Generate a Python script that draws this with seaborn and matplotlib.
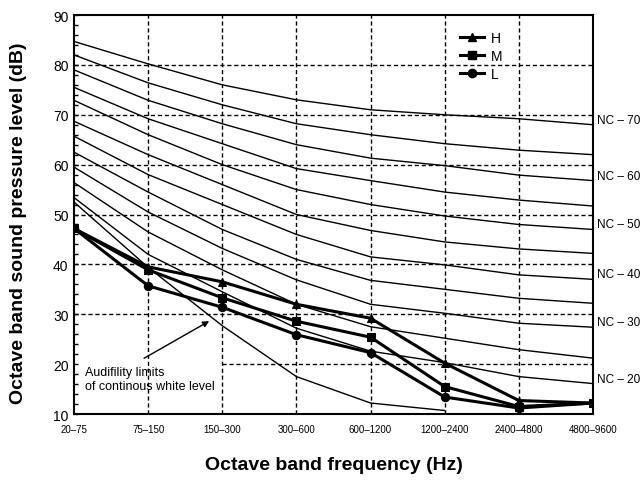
import pandas as pd
import matplotlib.pyplot as plt
import seaborn as sns
from matplotlib.lines import Line2D

# octave bands along the x axis
bands = ["20–75", "75–150", "150–300", "300–600", "600–1200",
         "1200–2400", "2400–4800", "4800–9600"]

# noise criterion curves (dB)
nc_70 = [84.7, 80.2, 76.0, 73.0, 71.0, 70.0, 69.2, 68.0]
nc_65 = [82.0, 76.4, 72.0, 68.2, 66.0, 64.2, 62.9, 62.0]
nc_60 = [79.0, 72.9, 68.2, 64.0, 61.3, 59.8, 57.9, 56.8]
nc_55 = [75.5, 69.2, 64.2, 59.2, 56.8, 54.5, 52.9, 51.7]
nc_50 = [72.9, 66.0, 60.0, 55.0, 52.0, 49.7, 48.0, 47.0]
nc_45 = [68.7, 62.0, 56.0, 50.0, 46.8, 44.5, 43.1, 42.2]
nc_40 = [65.7, 58.0, 52.0, 46.0, 41.5, 39.9, 37.9, 37.0]
nc_35 = [62.5, 54.5, 47.0, 41.0, 36.8, 35.0, 33.2, 32.2]
nc_30 = [59.5, 50.5, 43.2, 36.9, 32.0, 30.2, 28.2, 27.4]
nc_25 = [56.4, 46.5, 38.9, 32.0, 27.5, 25.2, 22.9, 21.2]
nc_20 = [53.4, 42.0, 34.5, 27.2, 22.6, 20.3, 17.5, 16.1]
nc_levels = [70, 65, 60, 55, 50, 45, 40, 35, 30, 25, 20]
nc_curves = [nc_70, nc_65, nc_60, nc_55, nc_50, nc_45, nc_40, nc_35, nc_30, nc_25, nc_20]
labelled_nc = [70, 60, 50, 40, 30, 20]

# audibility limit of continuous white noise (stops at 1200-2400)
audibility = [52.5, 39.4, 27.7, 17.5, 12.2, 10.7]

# measured spectra
h_spl = [47.2, 39.5, 36.5, 32.0, 29.2, 20.2, 12.7, 12.2]
m_spl = [47.2, 38.9, 33.3, 28.6, 25.4, 15.5, 11.5, 12.2]
l_spl = [47.2, 35.7, 31.4, 25.9, 22.3, 13.4, 11.2, 12.2]
levels = ["H", "M", "L"]
level_markers = {"H": "^", "M": "s", "L": "o"}

grid_levels = [80, 70, 60, 50, 40, 30, 20]
grid_start = [0, 0, 0, 0, 0, 0, 2]

# long tables for seaborn
rows = []
for lvl, vals in zip(nc_levels, nc_curves):
    for i, v in enumerate(vals):
        rows.append((f"NC-{lvl}", i, v))
for i, v in enumerate(audibility):
    rows.append(("audibility", i, v))
curves = pd.DataFrame(rows, columns=["curve", "band", "spl"])

rows = []
for lvl, vals in zip(levels, [h_spl, m_spl, l_spl]):
    for i, v in enumerate(vals):
        rows.append((lvl, i, v))
meas = pd.DataFrame(rows, columns=["level", "band", "spl"])

plt.rcParams['font.family'] = ['Liberation Sans', 'DejaVu Sans']

fig = plt.figure(figsize=(6.43, 4.81), dpi=100)
ax = fig.add_axes([0.1151, 0.1372, 0.8071, 0.8295])

dash = (0, (3, 2))
ax.vlines(range(1, 7), 10, 90, colors="black", linewidth=1.0, linestyles=[dash], zorder=1)
for lvl, x0 in zip(grid_levels, grid_start):
    ax.hlines(lvl, x0, 7, colors="black", linewidth=1.0, linestyles=[dash], zorder=1)

sns.lineplot(data=curves, x="band", y="spl", units="curve", estimator=None,
             color="black", linewidth=1.0, legend=False, ax=ax, zorder=2)

sns.lineplot(data=meas, x="band", y="spl", hue="level", style="level",
             palette=["black"] * 3, markers=level_markers, dashes=False,
             estimator=None, markersize=6, markeredgecolor="black",
             linewidth=2.2, legend=False, ax=ax, zorder=3)

# NC labels on the right side
for lvl, vals in zip(nc_levels, nc_curves):
    if lvl in labelled_nc:
        ax.annotate(f"NC – {lvl}", xy=(7, vals[-1] + 1), xytext=(3, 0),
                    textcoords="offset points", va="center", ha="left",
                    fontsize=8.5, annotation_clip=False)

# audibility note
ax.text(0.15, 19.6, "Audifility limits\nof continous white level",
        fontsize=9, va="top", ha="left", linespacing=1.25)
ax.annotate("", xy=(1.856, 28.9), xytext=(0.912, 20.9),
            arrowprops=dict(arrowstyle="-|>", color="black", lw=1, mutation_scale=9))

handles = [Line2D([], [], color="black", lw=2.2, marker=level_markers[k],
                  markersize=6, label=k) for k in levels]
ax.legend(handles=handles, loc="upper left", bbox_to_anchor=(0.744, 0.96),
          frameon=False, fontsize=10, handlelength=1.7, handletextpad=0.5,
          labelspacing=0.3, borderpad=0, borderaxespad=0)

ax.set_xlim(0, 7)
ax.set_ylim(10, 90)
ax.set_xticks(range(len(bands)), bands)
ax.tick_params(axis="x", length=0, pad=7.5, labelsize=7)
ax.set_yticks(range(10, 91, 10))
ax.set_yticks(range(10, 91, 2), minor=True)
ax.tick_params(axis="y", which="both", direction="in", length=3, width=1,
               labelsize=10, pad=4)
for s in ax.spines.values():
    s.set_linewidth(1.5)

ax.set_xlabel("Octave band frequency (Hz)", fontsize=14, fontweight="bold")
ax.set_ylabel("Octave band sound pressure level (dB)", fontsize=14, fontweight="bold")
ax.xaxis.set_label_coords(0.5, -0.105)
ax.yaxis.set_label_coords(-0.09, 0.48)

plt.savefig("out.png", dpi=100)
plt.close()
